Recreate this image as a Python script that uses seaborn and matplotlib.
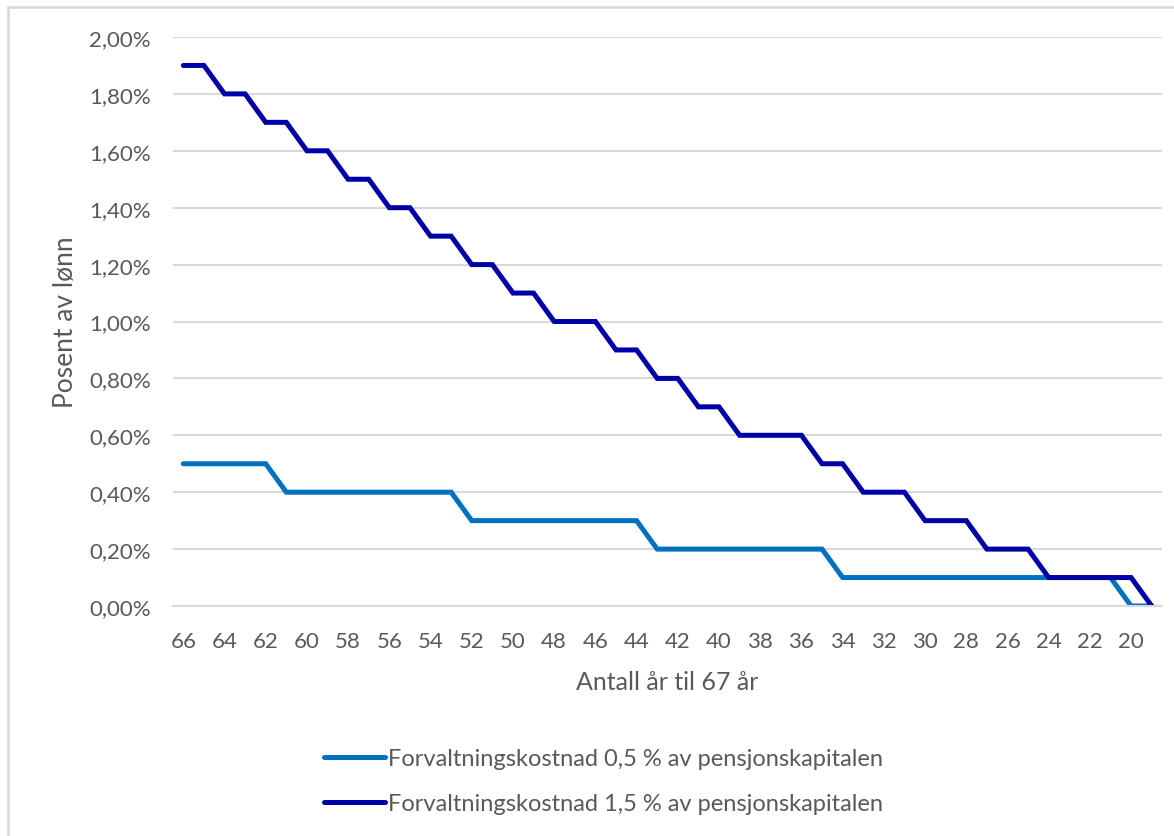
import matplotlib
matplotlib.use("Agg")
import matplotlib.pyplot as plt
import seaborn as sns
import numpy as np
from matplotlib.patches import Rectangle
from matplotlib.ticker import FuncFormatter

# år til 67 (kategoriakse, 66 ned til 19)
years = list(range(66, 18, -1))

# forvaltningskostnad 0,5 % av pensjonskapitalen (andel av lønn)
cost_05 = [0.005] * 5 + [0.004] * 9 + [0.003] * 9 + [0.002] * 9 + [0.001] * 14 + [0.0] * 2

# forvaltningskostnad 1,5 % av pensjonskapitalen
cost_15 = ([0.019] * 2 + [0.018] * 2 + [0.017] * 2 + [0.016] * 2 + [0.015] * 2
           + [0.014] * 2 + [0.013] * 2 + [0.012] * 2 + [0.011] * 2 + [0.010] * 3
           + [0.009] * 2 + [0.008] * 2 + [0.007] * 2 + [0.006] * 4 + [0.005] * 2
           + [0.004] * 3 + [0.003] * 3 + [0.002] * 3 + [0.001] * 5 + [0.0] * 1)

labels = ["Forvaltningskostnad 0,5 % av pensjonskapitalen",
          "Forvaltningskostnad 1,5 % av pensjonskapitalen"]
colors = ["#0070C0", "#0000A8"]

sns.set_theme(style="white")
plt.rcParams['font.family'] = ['Lato', 'DejaVu Sans']

text_color = "#595959"
grid_color = "#d9d9d9"

fig = plt.figure(figsize=(11.74, 8.37), dpi=100)
ax = fig.add_axes([173 / 1174, 1 - 607 / 837, (1162 - 173) / 1174, (607 - 38) / 837])

pos = np.arange(len(years))
sns.lineplot(x=pos, y=cost_05, ax=ax, color=colors[0], linewidth=3.6,
             label=labels[0], legend=False, solid_joinstyle='miter')
sns.lineplot(x=pos, y=cost_15, ax=ax, color=colors[1], linewidth=3.6,
             label=labels[1], legend=False, solid_joinstyle='miter')

ax.set_xlim(-0.5, len(years) - 0.5)
ax.set_ylim(0, 0.02)
ax.set_yticks(np.arange(0, 0.0201, 0.002))
ax.yaxis.set_major_formatter(FuncFormatter(lambda v, p: f"{v * 100:.2f}%".replace(".", ",")))
ax.set_xticks(pos[::2])
ax.set_xticklabels([str(y) for y in years[::2]])

ax.grid(axis='y', color=grid_color, linewidth=1.5)
ax.set_axisbelow(True)
for side in ['top', 'right', 'left']:
    ax.spines[side].set_visible(False)
ax.spines['bottom'].set_color(grid_color)
ax.spines['bottom'].set_linewidth(1.5)
ax.tick_params(axis='both', length=0, labelsize=16, labelcolor=text_color)
ax.tick_params(axis='y', pad=16)
ax.tick_params(axis='x', pad=18)

ax.set_xlabel("Antall år til 67 år", fontsize=18, color=text_color, labelpad=14)
ax.set_ylabel("Posent av lønn", fontsize=19, color=text_color, labelpad=8)

handles, lbls = ax.get_legend_handles_labels()
fig.legend(handles, lbls, loc='center', bbox_to_anchor=(0.514, 1 - 782 / 837),
           frameon=False, fontsize=17, labelcolor=text_color, handlelength=2.6,
           handletextpad=0.1, labelspacing=1.0)

# ramme rundt diagrammet
fig.patches.append(Rectangle((8 / 1174, -0.1), 1.2, 1 - 8 / 837 + 0.1,
                             transform=fig.transFigure, fill=False,
                             edgecolor=grid_color, linewidth=2))

fig.savefig("out.png", dpi=100)
